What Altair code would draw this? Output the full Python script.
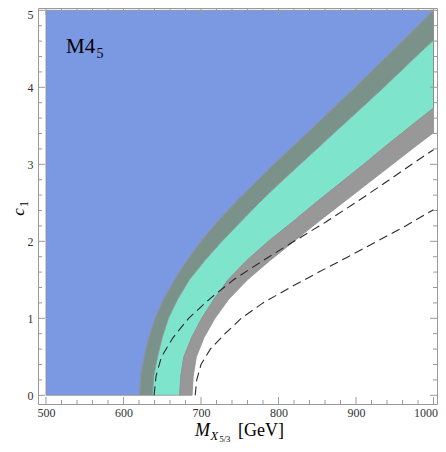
import altair as alt
import pandas as pd

# ---------------- data ----------------
y_grid = [0.0, 0.25, 0.5, 0.75, 1.0, 1.25, 1.5, 1.75, 2.0, 2.25, 2.5, 2.75,
          3.0, 3.25, 3.41, 3.5, 3.73, 4.0, 4.25, 4.5, 4.61, 4.75, 5.0]
x_left = [500] * len(y_grid)
# blue / dark-band boundary
b1 = [621, 622.5, 627, 633, 641, 652, 666, 682, 700, 721, 744, 769,
      794, 820.5, 837.5, 847, 871, 899, 924.5, 950, 961, 975, 1000]
# dark-band / cyan boundary
b2 = [637.5, 639, 644, 650, 658, 670, 685, 705, 727, 751, 775, 801,
      828, 855, 872, 882, 907, 936, 962, 988, 1000, 1000, 1000]
# cyan / light-gray boundary
b3 = [672.5, 674, 678, 688, 701, 717, 735, 759, 787, 818, 848, 879,
      910, 940, 960, 971, 1000, 1000, 1000, 1000, 1000, 1000, 1000]
# light-gray / white boundary
b4 = [688.5, 690, 694, 704, 718, 736, 760, 789, 820, 851, 883, 915,
      947, 979, 1000, 1000, 1000, 1000, 1000, 1000, 1000, 1000, 1000]

# dashed curves
d1_y = [0.0, 0.25, 0.5, 0.75, 1.0, 1.25, 1.5, 1.75, 2.0, 2.25, 2.5, 2.75, 3.0, 3.19]
d1_x = [639.5, 642, 649, 664, 684, 711, 742, 780, 820, 861, 899, 936, 972, 1000]
d2_y = [0.0, 0.2, 0.4, 0.6, 0.8, 1.0, 1.2, 1.4, 1.6, 1.8, 2.0, 2.2, 2.41]
d2_x = [692.5, 694.5, 700, 712, 731, 752, 780, 815, 852, 890, 927, 964, 1000]

x_major = [500, 600, 700, 800, 900, 1000]
y_major = [0, 1, 2, 3, 4, 5]
x_minor = [v for v in range(520, 1000, 20) if v % 100 != 0]
y_minor = [round(i * 0.2, 1) for i in range(1, 25) if i % 5 != 0]

# ---------------- style ----------------
BLUE = "#7b98e3"
DARK = "#7a928a"
CYAN = "#7ee4cc"
LGRAY = "#989898"
EDGE = "#8f8f8f"
FRAME = "#9a9a9a"
SERIF = "Liberation Serif"

W, H = 399, 396
xs = alt.Scale(domain=[489.7, 1004.5], nice=False, zero=False)
ys = alt.Scale(domain=[-0.113, 5.030], nice=False, zero=False)

x_axis = alt.Axis(values=x_major, format="d", ticks=False, domain=False, grid=False,
                  labelFont=SERIF, labelFontSize=12, labelColor="#333333",
                  labelPadding=3, labelFlush=False, labelOverlap=False, title=None,
                  labelOffset={"condition": {"test": "datum.value === 1000", "value": -8}, "value": 0})
y_axis = alt.Axis(values=y_major, format="d", ticks=False, domain=False, grid=False,
                  labelFont=SERIF, labelFontSize=12, labelColor="#333333",
                  labelPadding=5, labelFlush=False, labelOverlap=False, title=None,
                  labelOffset={"condition": {"test": "datum.value === 5", "value": 4}, "value": 0})

df = pd.DataFrame({"y": y_grid, "x0": x_left, "b1": b1, "b2": b2, "b3": b3, "b4": b4})


def band(lo, hi, fill):
    return alt.Chart(df).mark_area(orient="horizontal", fill=fill, stroke=EDGE,
                                   strokeWidth=0.8, fillOpacity=1).encode(
        y=alt.Y("y:Q", scale=ys, axis=y_axis),
        x=alt.X(f"{lo}:Q", scale=xs, axis=x_axis),
        x2=f"{hi}:Q",
    )


blue = band("x0", "b1", BLUE)
dark = band("b1", "b2", DARK)
cyan = band("b2", "b3", CYAN)
lgray = band("b3", "b4", LGRAY)

dash_df = pd.DataFrame({
    "s": ["a"] * len(d1_x) + ["b"] * len(d2_x),
    "x": d1_x + d2_x,
    "y": d1_y + d2_y,
})
dashes = alt.Chart(dash_df).mark_line(color="#2a2a2a", strokeWidth=1.1,
                                      strokeDash=[9, 5]).encode(
    x=alt.X("x:Q", scale=xs, axis=x_axis),
    y=alt.Y("y:Q", scale=ys, axis=y_axis),
    detail="s:N",
    order=alt.Order("y:Q"),
)

# ---------------- frame ticks (inward, on all four sides) ----------------
def xticks(vals, length):
    d = pd.DataFrame({"v": vals})
    base = alt.Chart(d).mark_rule(color=FRAME, strokeWidth=1)
    bottom = base.encode(x=alt.X("v:Q", scale=xs, axis=x_axis), y=alt.value(H), y2=alt.value(H - length))
    top = base.encode(x=alt.X("v:Q", scale=xs, axis=x_axis), y=alt.value(0), y2=alt.value(length))
    return [bottom, top]


def yticks(vals, length):
    d = pd.DataFrame({"v": vals})
    base = alt.Chart(d).mark_rule(color=FRAME, strokeWidth=1)
    left = base.encode(y=alt.Y("v:Q", scale=ys, axis=y_axis), x=alt.value(0), x2=alt.value(length))
    right = base.encode(y=alt.Y("v:Q", scale=ys, axis=y_axis), x=alt.value(W), x2=alt.value(W - length))
    return [left, right]


ticks = xticks(x_major, 7) + xticks(x_minor, 4) + yticks(y_major, 7) + yticks(y_minor, 4)

# ---------------- texts ----------------
def txt(t, x, y, size, style="normal", angle=0, align="left", color="black"):
    return alt.Chart(pd.DataFrame({"t": [t]})).mark_text(
        font=SERIF, fontSize=size, fontStyle=style, angle=angle, align=align,
        baseline="alphabetic", color=color).encode(
        text="t:N", x=alt.value(x), y=alt.value(y))


texts = [
    txt("M4", 28, 44.7, 21),
    txt("5", 58.5, 49.5, 14),
    # x-axis title  M_{X_{5/3}} [GeV]
    txt("M", 157, 428, 18, style="italic"),
    txt("X", 172.5, 431.5, 12.5, style="italic"),
    txt("5/3", 181.5, 433.5, 8.5),
    txt("[GeV]", 200, 428, 18),
    # y-axis title  c_1
    txt("c", -14, 204, 17, style="italic", angle=270, align="center"),
    txt("1", -10, 196, 12, angle=270, align="center"),
]

chart = alt.layer(blue, dark, cyan, lgray, dashes, *ticks, *texts).properties(
    width=W, height=H,
    padding={"left": 30, "top": 0, "right": 1, "bottom": 40},
    autosize=alt.AutoSizeParams(type="none"),
    background="white",
).configure_view(
    stroke=FRAME, strokeWidth=1
).configure_axis(
    labelFont=SERIF, labelFontSize=12, labelColor="#333333"
)

chart.save("out.html", embed_options={"renderer": "svg", "actions": False})
